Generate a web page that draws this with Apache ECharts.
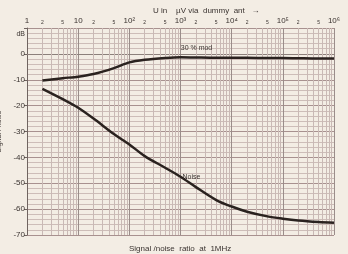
<!DOCTYPE html>
<html>
<head>
<meta charset="utf-8">
<script src="https://cdn.jsdelivr.net/npm/echarts@6/dist/echarts.min.js"></script>
<style>
  html, body { margin: 0; padding: 0; background: #f3ede4; }
  #chart { width: 348px; height: 254px; }
</style>
</head>
<body>
<div id="chart"></div>
<script>
// input level in uV (log scale) and the two curves in dB
var inputUv = [2, 5, 10, 20, 50, 100, 200, 500, 1000, 2000, 5000, 10000, 20000, 50000, 100000, 200000, 500000, 1000000];
var modDb = [-10.3, -9.4, -8.8, -7.8, -5.5, -3.3, -2.3, -1.6, -1.3, -1.4, -1.5, -1.5, -1.5, -1.6, -1.6, -1.7, -1.8, -1.8];
var noiseDb = [-13.5, -17.5, -20.8, -25, -31, -35, -39.5, -44, -47.5, -51.5, -56.5, -59, -61, -62.8, -63.7, -64.4, -65, -65.3];

var decadeLabels = {1: '1', 10: '10', 100: '10²', 1000: '10³', 10000: '10⁴', 100000: '10⁵', 1000000: '10⁶'};
var decades = [1, 10, 100, 1000, 10000, 100000];
var subSteps = [2, 3, 4, 5, 6, 7, 8, 9];

var txt = '#3a3330';

// vertical minor grid lines of the log paper
var minorLines = [];
for (var d = 0; d < decades.length; d++) {
    for (var s = 0; s < subSteps.length; s++) {
        var m = subSteps[s];
        minorLines.push({
            xAxis: decades[d] * m,
            label: {show: m == 2 || m == 5, formatter: String(m)}
        });
    }
}

function pairs(ys) {
    var res = [];
    for (var i = 0; i < inputUv.length; i++) {
        res.push([inputUv[i], ys[i]]);
    }
    return res;
}

var modData = pairs(modDb);
var noiseData = pairs(noiseDb);
// text labels on the curves
modData[8] = {value: modData[8], label: {show: true, formatter: '30 % mod', position: 'top', offset: [16, -1]}};
noiseData[8] = {value: noiseData[8], label: {show: true, formatter: 'Noise', position: 'right', offset: [-3, 0]}};

var myChart = echarts.init(document.getElementById('chart'));

option = {
    backgroundColor: '#f3ede4',
    animation: false,
    textStyle: {fontFamily: 'Liberation Sans', color: txt},
    title: [
        {
            text: 'U in    µV via  dummy  ant   →',
            left: 148, top: 2,
            textStyle: {fontSize: 8, fontWeight: 'normal', color: txt}
        },
        {
            text: 'Signal /noise  ratio  at  1MHz',
            left: 124, top: 240,
            textStyle: {fontSize: 8, fontWeight: 'normal', color: txt}
        }
    ],
    grid: {left: 27, right: 14, top: 28, bottom: 19, outerBoundsMode: 'none', containLabel: false},
    xAxis: {
        type: 'log',
        logBase: 10,
        min: 1,
        max: 1000000,
        position: 'top',
        axisLine: {show: true, lineStyle: {color: '#8c807b', width: 1}},
        axisTick: {show: false},
        axisLabel: {
            fontSize: 8,
            color: txt,
            margin: 3,
            formatter: function (v) { return decadeLabels[Math.round(v)] || ''; }
        },
        splitLine: {show: true, lineStyle: {color: '#9a8d8a', width: 1}}
    },
    yAxis: {
        type: 'value',
        min: -70,
        max: 10,
        interval: 10,
        name: 'Signal / noise',
        nameLocation: 'middle',
        nameGap: 15,
        nameTextStyle: {fontSize: 7, color: txt},
        axisLine: {show: true, lineStyle: {color: '#6f6460', width: 1}},
        axisTick: {show: true, length: 3, lineStyle: {color: '#6f6460'}},
        axisLabel: {
            fontSize: 8,
            color: txt,
            margin: 2,
            formatter: function (v) { return v == 10 ? '{d|dB}' : String(v); },
            rich: {d: {fontSize: 7, color: txt, padding: [12, 0, 0, 0]}}
        },
        splitLine: {show: true, lineStyle: {color: '#a8918f', width: 1}},
        minorTick: {show: false, splitNumber: 5},
        minorSplitLine: {show: true, lineStyle: {color: '#cdbdb8', width: 1}}
    },
    series: [
        {
            name: '30 % mod',
            type: 'line',
            data: modData,
            smooth: 0.3,
            showSymbol: true,
            symbol: 'circle',
            symbolSize: 0.01,
            lineStyle: {color: '#2a221f', width: 2.5},
            label: {fontSize: 7, color: txt},
            z: 5
        },
        {
            name: 'Noise',
            type: 'line',
            data: noiseData,
            smooth: 0.3,
            showSymbol: true,
            symbol: 'circle',
            symbolSize: 0.01,
            lineStyle: {color: '#2a221f', width: 2.5},
            label: {fontSize: 7, color: txt},
            z: 5,
            markLine: {
                silent: true,
                symbol: 'none',
                animation: false,
                lineStyle: {color: '#c9b9b5', width: 1, type: 'solid'},
                label: {position: 'end', fontSize: 5, color: txt, distance: 3},
                emphasis: {disabled: true},
                data: minorLines,
                z: 1
            }
        }
    ]
};
myChart.setOption(option);
</script>
</body>
</html>
